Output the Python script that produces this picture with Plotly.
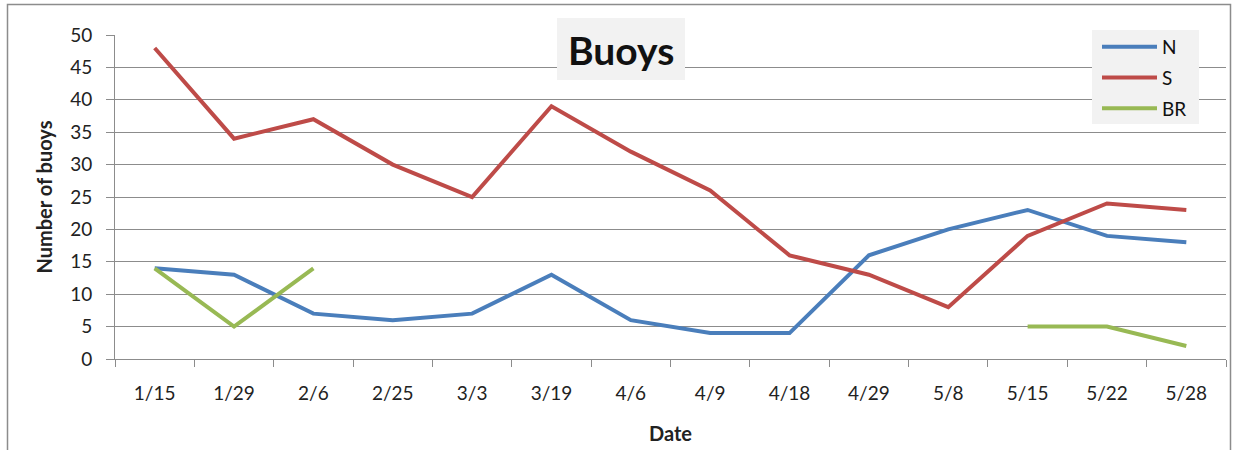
import plotly.graph_objects as go

dates = ["1/15", "1/29", "2/6", "2/25", "3/3", "3/19", "4/6", "4/9",
         "4/18", "4/29", "5/8", "5/15", "5/22", "5/28"]
north = [14, 13, 7, 6, 7, 13, 6, 4, 4, 16, 20, 23, 19, 18]
south = [48, 34, 37, 30, 25, 39, 32, 26, 16, 13, 8, 19, 24, 23]
br = [14, 5, 14, None, None, None, None, None, None, None, None, 5, 5, 2]
y_ticks = [0, 5, 10, 15, 20, 25, 30, 35, 40, 45, 50]

W, H = 1233, 450
L, R, T, B = 115, 7, 35, 91
FONT = "Lato, 'Open Sans', sans-serif"
GRID = "#8c8c8c"

fig = go.Figure()
for name, vals, col in [("N", north, "#4a7ebb"), ("S", south, "#be4b48"), ("BR", br, "#98b954")]:
    fig.add_trace(go.Scatter(x=dates, y=vals, name=name, mode="lines", legendgroup=name,
                             line=dict(color=col, width=4), connectgaps=False))

pw = W - L - R
ph = H - T - B
def px(x):
    return (x - L) / pw
def py(y):
    return (H - B - y) / ph

fig.update_layout(
    width=W, height=H,
    margin=dict(l=L, r=R, t=T, b=B),
    paper_bgcolor="white", plot_bgcolor="white",
    font=dict(family=FONT, size=19, color="#222"),
    showlegend=True,
    legend=dict(x=px(1097), y=py(28), xanchor="left", yanchor="top",
                bgcolor="rgba(0,0,0,0)", font=dict(size=19, color="#111"),
                itemwidth=55, tracegroupgap=3),
    xaxis=dict(type="category", range=[-0.5, 13.5], showgrid=False,
               showline=True, linecolor=GRID, linewidth=1,
               ticks="outside", tickson="boundaries", ticklen=7, tickcolor=GRID,
               ticklabelstandoff=17,
               title=dict(text="<b>Date</b>", font=dict(size=20, color="#222"), standoff=24),
               tickfont=dict(size=19), fixedrange=True),
    yaxis=dict(range=[0, 50], tickvals=y_ticks, showgrid=True, gridcolor=GRID, gridwidth=1,
               showline=True, linecolor=GRID, linewidth=1,
               ticks="outside", ticklen=8, tickcolor=GRID, zeroline=False,
               ticklabelstandoff=10,
               title=dict(text="<b>Number of buoys</b>", font=dict(size=20, color="#222"), standoff=12),
               tickfont=dict(size=19), fixedrange=True),
    shapes=[
        dict(type="rect", xref="paper", yref="paper",
             x0=px(7.5), x1=px(1230.5), y0=py(452), y1=py(4.5),
             line=dict(color="#8c8c8c", width=1.5), fillcolor="rgba(0,0,0,0)", layer="below"),
        dict(type="rect", xref="paper", yref="paper",
             x0=px(557), x1=px(685), y0=py(80), y1=py(18),
             line=dict(width=0), fillcolor="#f2f2f2", layer="above"),
        dict(type="rect", xref="paper", yref="paper",
             x0=px(1092), x1=px(1199), y0=py(124), y1=py(30),
             line=dict(width=0), fillcolor="#f2f2f2", layer="above"),
    ],
    annotations=[
        dict(text="<b>Buoys</b>", xref="paper", yref="paper", x=px(621), y=py(50),
             xanchor="center", yanchor="middle", showarrow=False,
             font=dict(size=39, color="#111", family=FONT)),
    ],
)

fig.write_html("out.html")
